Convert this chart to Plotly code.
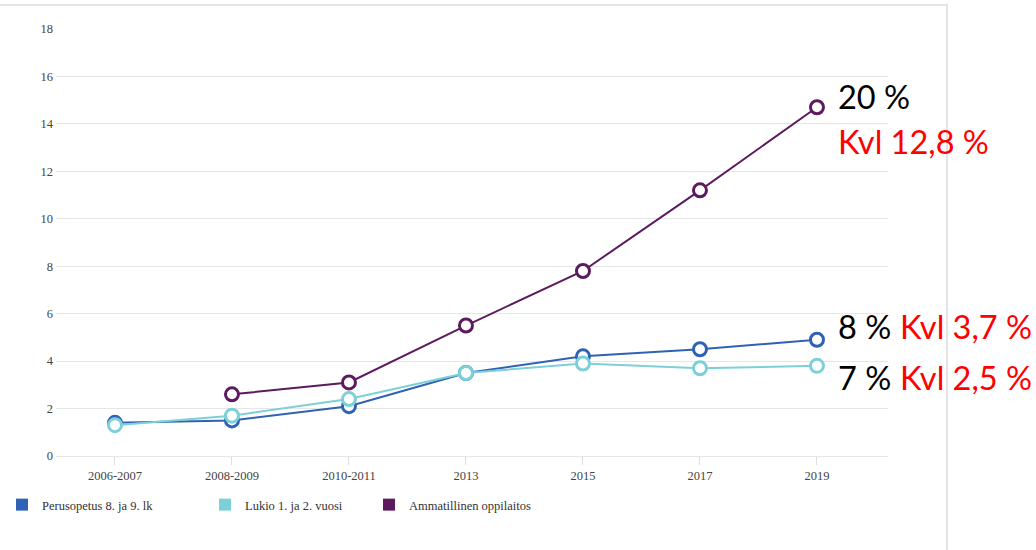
import plotly.graph_objects as go

# Survey years (categories) and share values per school level
periods = ["2006-2007", "2008-2009", "2010-2011", "2013", "2015", "2017", "2019"]
perusopetus = [1.4, 1.5, 2.1, 3.5, 4.2, 4.5, 4.9]
lukio = [1.3, 1.7, 2.4, 3.5, 3.9, 3.7, 3.8]
ammatillinen = [None, 2.6, 3.1, 5.5, 7.8, 11.2, 14.7]

series_names = ["Perusopetus 8. ja 9. lk", "Lukio 1. ja 2. vuosi", "Ammatillinen oppilaitos"]
series_colors = ["#2f62b5", "#7dcfd8", "#5c1a5f"]
series_values = [perusopetus, lukio, ammatillinen]

W, H = 1036, 550
L, R, T, B = 56, 148, 29, 94
PW, PH = W - L - R, H - T - B


def px(xpix):
    return (xpix - L) / PW


def py(ypix):
    return (H - B - ypix) / PH


fig = go.Figure()
legend_ids = ["legend", "legend2", "legend3"]

for name, color, vals, lg in zip(series_names, series_colors, series_values, legend_ids):
    fig.add_trace(go.Scatter(
        x=periods, y=vals, mode="lines+markers", name=name,
        line=dict(color=color, width=2),
        marker=dict(symbol="circle", size=13, color="white",
                    line=dict(color=color, width=3)),
        showlegend=False, connectgaps=False,
    ))
    # legend entry drawn as a filled square swatch
    fig.add_trace(go.Scatter(
        x=[None], y=[None], mode="markers", name=name,
        marker=dict(symbol="square", size=12, color=color),
        legend=lg, showlegend=True,
    ))

legend_font = dict(family="Liberation Serif", size=12.5, color="#333333")
legend_common = dict(orientation="h", yanchor="middle", y=py(505), xanchor="left",
                     font=legend_font, bgcolor="rgba(0,0,0,0)", borderwidth=0)

# Right-hand commentary texts
big = dict(family="Lato", size=32.5)
notes = [
    ("20 %", 836, 97, "#000000"),
    ("Kvl 12,8 %", 836, 141, "#ff0000"),
    ("8 %", 836, 326, "#000000"),
    ("Kvl 3,7 %", 898, 326, "#ff0000"),
    ("7 %", 836, 377, "#000000"),
    ("Kvl 2,5 %", 898, 377, "#ff0000"),
]
annotations = [
    dict(text=t, xref="paper", yref="paper", x=px(xp), y=py(yp),
         xanchor="left", yanchor="middle", showarrow=False,
         font=dict(big, color=c))
    for t, xp, yp, c in notes
]

frame_color = "#e4e4e4"
shapes = [
    dict(type="line", xref="paper", yref="paper", x0=px(0), x1=px(948),
         y0=py(5), y1=py(5), line=dict(color=frame_color, width=2)),
    dict(type="line", xref="paper", yref="paper", x0=px(947), x1=px(947),
         y0=py(5), y1=py(H), line=dict(color=frame_color, width=2)),
]

tick_font = dict(family="Liberation Serif", size=12.5, color="#444444")

fig.update_layout(
    width=W, height=H, autosize=False,
    margin=dict(l=L, r=R, t=T, b=B, autoexpand=False),
    paper_bgcolor="white", plot_bgcolor="white",
    font=dict(family="Liberation Serif", size=12, color="#444444"),
    legend=dict(legend_common, x=px(2)),
    legend2=dict(legend_common, x=px(205)),
    legend3=dict(legend_common, x=px(369)),
    annotations=annotations,
    shapes=shapes,
    xaxis=dict(
        type="category", range=[-0.504, 6.607], showgrid=False, automargin=False,
        ticks="outside", ticklen=8, tickcolor="#dddddd", tickwidth=1,
        showline=True, linecolor="#e6e6e6", linewidth=1, zeroline=False,
        tickfont=tick_font,
    ),
    yaxis=dict(
        range=[0, 18], dtick=2, tick0=0, showgrid=True, gridcolor="#e6e6e6",
        gridwidth=1, zeroline=False, showline=False, ticks="", automargin=False,
        ticklabelstandoff=2,
        tickfont=tick_font,
    ),
)

fig.write_html("out.html")
